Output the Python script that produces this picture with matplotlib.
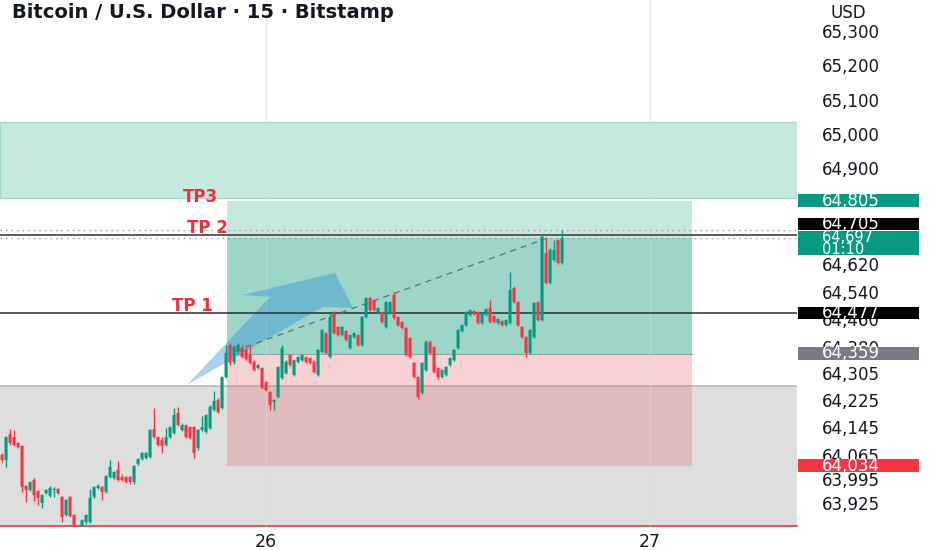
import matplotlib
matplotlib.use("Agg")
import matplotlib.pyplot as plt
import matplotlib.transforms as mtransforms
from matplotlib.patches import Rectangle, Polygon
import numpy as np

# BTCUSD 15m candles (Bitstamp)
opens = [64065, 64050, 64125, 64117, 64100, 64091, 63975, 63963, 63992, 63960,
         63925, 63954, 63946, 63963, 63966, 63943, 63890, 63943, 63890, 63858,
         63855, 63869, 63869, 63943, 63969, 63972, 63957, 64001, 63998, 64021,
         64001, 64001, 64001, 63986, 64039, 64053, 64056, 64059, 64140, 64117,
         64108, 64094, 64117, 64129, 64187, 64138, 64152, 64146, 64146, 64085,
         64138, 64132, 64143, 64196, 64225, 64202, 64292, 64385, 64336, 64365,
         64376, 64371, 64356, 64336, 64318, 64318, 64277, 64248, 64219, 64234,
         64289, 64303, 64356, 64298, 64336, 64341, 64350, 64347, 64336, 64298,
         64365, 64420, 64350, 64478, 64438, 64414, 64426, 64376, 64408, 64414,
         64385, 64467, 64522, 64516, 64481, 64481, 64438, 64478, 64531, 64467,
         64452, 64435, 64405, 64333, 64292, 64245, 64312, 64394, 64379, 64318,
         64292, 64298, 64327, 64341, 64376, 64426, 64443, 64473, 64484, 64481,
         64449, 64473, 64493, 64470, 64449, 64455, 64443, 64449, 64551, 64510,
         64438, 64408, 64362, 64408, 64510, 64458, 64653, 64566, 64633, 64691,
         64624]
highs = [64070, 64120, 64140, 64138, 64102, 64093, 63978, 63990, 63998, 63963,
         63950, 63966, 63975, 63972, 63968, 63946, 63937, 63946, 63893, 63860,
         63878, 63893, 63966, 63975, 63980, 63975, 64007, 64050, 64018, 64047,
         64010, 64004, 64004, 64036, 64056, 64074, 64074, 64140, 64202, 64120,
         64117, 64143, 64150, 64202, 64205, 64158, 64155, 64150, 64150, 64140,
         64178, 64184, 64210, 64251, 64230, 64295, 64385, 64390, 64385, 64390,
         64385, 64376, 64385, 64341, 64330, 64321, 64280, 64251, 64228, 64324,
         64385, 64341, 64360, 64344, 64353, 64360, 64353, 64350, 64341, 64374,
         64432, 64423, 64478, 64484, 64441, 64441, 64429, 64417, 64423, 64417,
         64470, 64525, 64525, 64519, 64496, 64484, 64513, 64513, 64540, 64470,
         64455, 64438, 64408, 64336, 64295, 64336, 64400, 64400, 64382, 64321,
         64315, 64324, 64350, 64374, 64432, 64446, 64484, 64490, 64487, 64484,
         64481, 64493, 64516, 64473, 64464, 64458, 64461, 64598, 64557, 64513,
         64441, 64411, 64432, 64510, 64513, 64705, 64700, 64668, 64691, 64694,
         64720]
lows = [64045, 64030, 64095, 64090, 64085, 63957, 63928, 63960, 63931, 63919,
        63910, 63950, 63943, 63943, 63950, 63869, 63887, 63884, 63846, 63846,
        63850, 63863, 63866, 63940, 63966, 63934, 63954, 63998, 63995, 63990,
        63990, 63983, 63980, 63980, 64036, 64050, 64053, 64056, 64114, 64091,
        64071, 64091, 64114, 64126, 64150, 64135, 64114, 64110, 64056, 64080,
        64135, 64129, 64140, 64193, 64187, 64199, 64289, 64327, 64330, 64362,
        64347, 64341, 64330, 64309, 64315, 64257, 64251, 64196, 64196, 64231,
        64286, 64300, 64324, 64295, 64333, 64338, 64333, 64330, 64303, 64295,
        64362, 64359, 64347, 64417, 64411, 64411, 64397, 64373, 64405, 64382,
        64382, 64464, 64484, 64484, 64478, 64449, 64435, 64475, 64461, 64440,
        64432, 64353, 64347, 64289, 64228, 64242, 64309, 64359, 64303, 64286,
        64289, 64295, 64324, 64338, 64373, 64423, 64440, 64470, 64472, 64446,
        64446, 64470, 64449, 64449, 64446, 64440, 64440, 64446, 64507, 64440,
        64405, 64350, 64359, 64405, 64455, 64455, 64563, 64563, 64630, 64621,
        64621]
closes = [64050, 64117, 64100, 64094, 64088, 63972, 63963, 63986, 63948, 63940,
          63948, 63963, 63969, 63966, 63954, 63884, 63934, 63887, 63855, 63852,
          63875, 63890, 63940, 63972, 63975, 63957, 64004, 64030, 64015, 63992,
          63992, 63986, 63986, 64033, 64053, 64071, 64071, 64138, 64117, 64094,
          64091, 64117, 64146, 64181, 64152, 64152, 64117, 64114, 64071, 64138,
          64146, 64181, 64205, 64222, 64190, 64292, 64362, 64333, 64379, 64385,
          64350, 64344, 64333, 64312, 64327, 64260, 64254, 64210, 64225, 64321,
          64376, 64336, 64327, 64341, 64350, 64356, 64336, 64333, 64306, 64371,
          64429, 64362, 64467, 64420, 64414, 64438, 64400, 64414, 64420, 64385,
          64467, 64522, 64487, 64487, 64493, 64452, 64510, 64510, 64464, 64443,
          64435, 64356, 64350, 64292, 64234, 64333, 64394, 64362, 64306, 64292,
          64312, 64321, 64347, 64371, 64429, 64443, 64481, 64487, 64475, 64449,
          64478, 64490, 64452, 64452, 64461, 64443, 64458, 64545, 64510, 64443,
          64408, 64362, 64429, 64507, 64458, 64700, 64566, 64662, 64662, 64624,
          64697]

# levels drawn on the chart
tp3 = 64805
tp2 = 64705
session_high = 64720
last_price = 64697
tp1 = 64477
entry = 64359
stop = 64034
supply_zone = (64814, 65035)
demand_zone = (63855, 64266)

# position tool / arrow / trend line (bar index, price)
pos_left, pos_right = 56.25, 172.5
trend_x = [58.25, 135.75]
trend_y = [64368, 64694]
arrow_x = [46.25, 67, 60.25, 83.25, 87.75, 80.25]
arrow_y = [64269, 64525, 64531, 64595, 64493, 64496]

ytick_vals = [65300, 65200, 65100, 65000, 64900, 64620, 64540, 64460,
              64380, 64305, 64225, 64145, 64065, 63995, 63925]
day_ticks = [66, 162]
day_labels = ['26', '27']

green = '#089981'
red = '#f23645'
txt = '#131722'

fig = plt.figure(figsize=(9.32, 5.5), dpi=100)
ax = fig.add_axes([0, 23/550, 797/932, 527/550])
ax.set_xlim(-0.5, 198.75)
ax.set_ylim(63855, 65390)
for s in ax.spines.values():
    s.set_visible(False)

# zones
ax.add_patch(Rectangle((-0.5, demand_zone[0]), 199.25, demand_zone[1]-demand_zone[0],
                       fc='#dedede', ec='none', zorder=1))
ax.plot([-0.5, 198.75], [demand_zone[1]]*2, color='#b8b8b8', lw=1.2, zorder=1.1)
ax.plot([-0.5, 198.75], [demand_zone[0]+2]*2, color=red, lw=1.2, zorder=1.1, clip_on=False)
ax.add_patch(Rectangle((-0.5, supply_zone[0]), 199.25, supply_zone[1]-supply_zone[0],
                       fc='#c5e8df', ec='#a3d9c9', lw=1, zorder=1))

# long position
w = pos_right - pos_left
ax.add_patch(Rectangle((pos_left, last_price), w, tp3-last_price, fc='#c7e8df', ec='none', zorder=1.2))
ax.add_patch(Rectangle((pos_left, entry), w, last_price-entry, fc='#9dd5c8', ec='none', zorder=1.2))
ax.add_patch(Rectangle((pos_left, stop), w, entry-stop, fc=(235/255, 105/255, 108/255, 0.3),
                       ec='none', zorder=1.3))
ax.plot([pos_left, pos_right], [entry, entry], color='#8fa8a4', lw=0.8, zorder=1.4)

# day separators
for d in day_ticks:
    ax.axvline(d, color='#d9d9d9', lw=1, alpha=0.5, zorder=1.5)

# arrow
ax.add_patch(Polygon(np.column_stack([arrow_x, arrow_y]), closed=True,
                     fc='#2a8fd8', alpha=0.4, ec='none', zorder=1.8))

# horizontal lines
ax.axhline(session_high, color='#9a9a9a', lw=1, ls=(0, (1, 3)), zorder=2)
ax.axhline(last_price, color='#9a9a9a', lw=1, ls=(0, (1, 3)), zorder=2)
ax.axhline(tp2, color='#505050', lw=1.3, zorder=2)
ax.axhline(tp1, color='#2a2e39', lw=1.1, zorder=2)
ax.plot(trend_x, trend_y, color='#5f7470', lw=0.9, ls=(0, (5, 4)), zorder=2)

# candles
idx = np.arange(len(opens))
o = np.array(opens); c = np.array(closes)
cols = [green if cc >= oo else red for oo, cc in zip(o, c)]
ax.vlines(idx, lows, highs, colors=cols, lw=1.0, zorder=3)
bars = ax.bar(idx, np.maximum(np.abs(c-o), 3), bottom=np.minimum(o, c), width=0.75,
              color=cols, linewidth=0, zorder=3.1)
for b in bars:
    b.set_snap(False)

# TP labels
tp_style = dict(color='#ee2f3b', fontsize=12, fontweight='bold', va='center', zorder=4)
ax.text(45.25, 64816, 'TP3', **tp_style)
ax.text(46.25, 64726, 'TP 2', **tp_style)
ax.text(42.5, 64499, 'TP 1', **tp_style)

# axes ticks
ax.yaxis.tick_right()
ax.set_yticks(ytick_vals)
ax.set_yticklabels([f'{v:,}' for v in ytick_vals])
ax.tick_params(axis='y', length=0, pad=18, labelsize=12, labelcolor=txt)
ax.set_xticks(day_ticks)
ax.set_xticklabels(day_labels)
ax.tick_params(axis='x', length=0, pad=4, labelsize=12.5, labelcolor=txt)

# price badges on the right scale
trans = mtransforms.blended_transform_factory(ax.transAxes, ax.transData)
px = 2.913
badges = [(64806, 13, green, ['64,805'], 12),
          (64738, 12, '#000000', ['64,705'], 12),
          (64682, 24, green, ['64,697', '01:10'], 10.5),
          (64479, 12, '#000000', ['64,477'], 12),
          (64361, 13, '#787b86', ['64,359'], 12),
          (64034, 13, red, ['64,034'], 12)]
for yc, hpx, col, labels, fs in badges:
    h = hpx * px
    ax.add_patch(Rectangle((798/797, yc - h/2), 121/797, h, transform=trans,
                           fc=col, ec='none', clip_on=False, zorder=5))
    n = len(labels)
    for k, lab in enumerate(labels):
        yy = yc + (n-1)*6*px - k*12*px
        ax.text(822/797, yy, lab, transform=trans, color='white', fontsize=fs,
                va='center', ha='left', zorder=6, clip_on=False)

fig.text(12/932, 1-13/550, 'Bitcoin / U.S. Dollar · 15 · Bitstamp', fontsize=14,
         fontweight='bold', color=txt, va='center', ha='left')
fig.text(830/932, 1-13/550, 'USD', fontsize=12, color=txt, va='center', ha='left')

fig.savefig('out.png', dpi=100, facecolor='white')
